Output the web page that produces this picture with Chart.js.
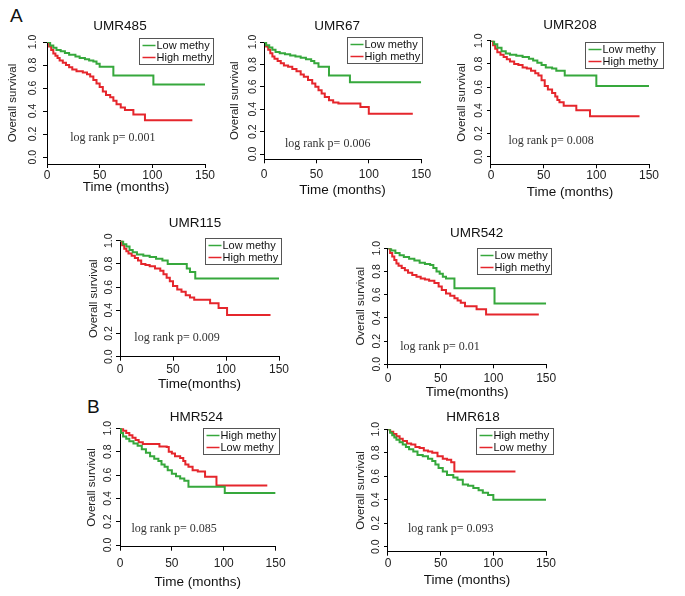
<!DOCTYPE html>
<html>
<head>
<meta charset="utf-8">
<script src="https://cdn.jsdelivr.net/npm/chart.js@4.4.1/dist/chart.umd.min.js"></script>
<style>
  body { margin: 0; background: #fff; width: 685px; height: 596px; position: relative; overflow: hidden; }
  .panel { position: absolute; }
  .tag { position: absolute; font: 19px 'Liberation Sans', Arial, sans-serif; color: #111; }
</style>
</head>
<body>
<div class="tag" style="left:10px;top:5px">A</div>
<div class="tag" style="left:87px;top:396px">B</div>
<script>
// axis ticks shared by every panel
const xTicks = [0, 50, 100, 150];
const yTicks = [0, 0.2, 0.4, 0.6, 0.8, 1.0];

// Kaplan-Meier steps: times (months) and survival
const umr485LowT  = [0, 3, 6, 9, 13, 17, 21, 27, 31, 36, 40, 44, 47, 50, 63, 101, 150];
const umr485LowS  = [1, .97, .95, .93, .92, .905, .89, .875, .86, .85, .84, .83, .81, .785, .71, .63, .63];
const umr485HighT = [0, 2, 4, 6, 8, 10, 12, 15, 18, 21, 24, 28, 34, 38, 41, 44, 47, 50, 53, 56, 60, 63, 66, 70, 74, 82, 93, 138];
const umr485HighS = [1, .96, .93, .9, .88, .86, .84, .82, .8, .78, .76, .745, .735, .72, .7, .67, .64, .61, .57, .54, .52, .49, .46, .43, .41, .37, .32, .32];

const umr67LowT  = [0, 2, 5, 8, 11, 15, 20, 25, 30, 35, 40, 45, 48, 52, 62, 82, 150];
const umr67LowS  = [1, .97, .95, .93, .91, .9, .89, .88, .87, .86, .845, .83, .81, .78, .7, .64, .64];
const umr67HighT = [0, 2, 4, 6, 8, 10, 13, 16, 19, 23, 27, 31, 35, 38, 42, 46, 49, 52, 55, 58, 62, 66, 71, 92, 100, 142];
const umr67HighS = [1, .96, .93, .9, .87, .85, .83, .81, .79, .78, .76, .74, .71, .69, .66, .63, .6, .57, .54, .51, .48, .46, .45, .42, .36, .36];

const umr208LowT  = [0, 3, 6, 10, 14, 18, 24, 30, 36, 40, 44, 48, 52, 58, 62, 70, 100, 150];
const umr208LowS  = [1, .97, .94, .91, .89, .88, .87, .86, .845, .83, .81, .79, .77, .76, .74, .7, .61, .61];
const umr208HighT = [0, 2, 4, 6, 9, 12, 15, 18, 22, 26, 30, 34, 38, 42, 45, 48, 51, 54, 58, 61, 63, 65, 69, 81, 94, 141];
const umr208HighS = [1, .96, .93, .9, .88, .86, .84, .82, .8, .79, .77, .76, .74, .72, .7, .66, .61, .58, .55, .52, .49, .47, .44, .4, .35, .35];

const umr115LowT  = [0, 3, 6, 9, 12, 16, 22, 28, 34, 40, 45, 63, 66, 71, 150];
const umr115LowS  = [1, .97, .95, .92, .9, .88, .87, .86, .845, .83, .8, .76, .73, .675, .675];
const umr115HighT = [0, 2, 4, 6, 8, 11, 14, 17, 20, 24, 28, 33, 38, 41, 44, 47, 50, 54, 58, 62, 66, 70, 85, 93, 101, 142];
const umr115HighS = [1, .96, .93, .91, .89, .87, .85, .83, .8, .79, .78, .76, .74, .71, .68, .65, .61, .58, .56, .53, .51, .49, .46, .42, .36, .36];

const umr542LowT  = [0, 3, 7, 11, 15, 20, 25, 30, 35, 40, 43, 46, 49, 52, 55, 63, 101, 150];
const umr542LowS  = [1, .98, .96, .94, .925, .91, .895, .875, .865, .855, .83, .8, .78, .755, .74, .655, .525, .525];
const umr542HighT = [0, 2, 4, 6, 8, 10, 13, 16, 19, 23, 27, 31, 35, 39, 44, 48, 51, 55, 59, 63, 66, 69, 73, 84, 93, 143];
const umr542HighS = [1, .96, .93, .9, .87, .85, .83, .81, .79, .77, .755, .74, .73, .72, .7, .67, .64, .61, .59, .57, .55, .53, .5, .475, .43, .43];

const hmr524HighT = [0, 1, 3, 6, 9, 13, 17, 21, 25, 29, 33, 37, 40, 43, 46, 50, 54, 58, 62, 66, 101, 150];
const hmr524HighS = [1, .96, .93, .91, .89, .87, .85, .82, .79, .76, .74, .72, .69, .67, .64, .61, .59, .57, .55, .5, .445, .445];
const hmr524LowT  = [0, 3, 6, 9, 12, 15, 18, 22, 38, 45, 47, 50, 53, 58, 61, 63, 66, 70, 75, 82, 93, 142];
const hmr524LowS  = [1, .98, .96, .94, .92, .9, .88, .865, .845, .84, .8, .785, .76, .745, .72, .69, .67, .64, .63, .585, .51, .51];

const hmr618HighT = [0, 2, 4, 6, 8, 11, 14, 17, 20, 24, 28, 33, 38, 42, 45, 48, 52, 56, 62, 66, 71, 76, 81, 86, 90, 95, 100, 150];
const hmr618HighS = [1, .97, .95, .93, .91, .89, .87, .85, .83, .81, .78, .77, .75, .73, .7, .67, .64, .61, .59, .57, .53, .52, .5, .48, .46, .44, .4, .4];
const hmr618LowT  = [0, 2, 5, 8, 11, 14, 18, 22, 26, 30, 34, 38, 42, 47, 52, 56, 60, 63, 121];
const hmr618LowS  = [1, .98, .96, .94, .92, .9, .88, .87, .85, .84, .82, .81, .8, .77, .75, .74, .72, .64, .64];

const GREEN = '#36a83c';
const RED = '#e5262c';
const FONT = "'Liberation Sans', Arial, sans-serif";

// layout of each panel in page pixels (chart area L/T/R/B) plus text offsets
const panels = [
  { title: 'UMR485', pText: 'log rank p= 0.001', xTitle: 'Time (months)',
    series: [['Low methy', umr485LowT, umr485LowS, GREEN], ['High methy', umr485HighT, umr485HighS, RED]],
    L: 47, T: 42, R: 205, B: 164, yMin: -0.06, titleDx: -6, titleY: 26,
    yTitle: 34, yTick: 14, xTick: 11, xTitleOff: 24, legend: [8, -4, 74], pAt: [22, 0.165] },
  { title: 'UMR67', pText: 'log rank p= 0.006', xTitle: 'Time (months)',
    series: [['Low methy', umr67LowT, umr67LowS, GREEN], ['High methy', umr67HighT, umr67HighS, RED]],
    L: 264, T: 42, R: 423, B: 159.3, yMin: -0.047, titleDx: -5.5, titleY: 26,
    yTitle: 29, yTick: 10, xTick: 15, xTitleOff: 31, legend: [1, -5, 75], pAt: [20, 0.095] },
  { title: 'UMR208', pText: 'log rank p= 0.008', xTitle: 'Time (months)',
    series: [['Low methy', umr208LowT, umr208LowS, GREEN], ['High methy', umr208HighT, umr208HighS, RED]],
    L: 491, T: 40.7, R: 649, B: 164.3, yMin: -0.065, titleDx: 0, titleY: 25,
    yTitle: 29, yTick: 12, xTick: 10, xTitleOff: 28, legend: [14, 1, 78], pAt: [16.5, 0.14] },
  { title: 'UMR115', pText: 'log rank p= 0.009', xTitle: 'Time(months)',
    series: [['Low methy', umr115LowT, umr115LowS, GREEN], ['High methy', umr115HighT, umr115HighS, RED]],
    L: 120, T: 240.7, R: 279, B: 356.7, yMin: 0, titleDx: -4.5, titleY: 223,
    yTitle: 26, yTick: 10, xTick: 12.6, xTitleOff: 27.6, legend: [2, -2.7, 76], pAt: [13.5, 0.16] },
  { title: 'UMR542', pText: 'log rank p= 0.01', xTitle: 'Time(months)',
    series: [['Low methy', umr542LowT, umr542LowS, GREEN], ['High methy', umr542HighT, umr542HighS, RED]],
    L: 388, T: 248.3, R: 547, B: 364.3, yMin: 0, titleDx: 9.5, titleY: 233,
    yTitle: 27, yTick: 11, xTick: 14, xTitleOff: 28.4, legend: [5, 0, 74], pAt: [11.6, 0.15] },
  { title: 'HMR524', pText: 'log rank p= 0.085', xTitle: 'Time (months)',
    series: [['High methy', hmr524HighT, hmr524HighS, GREEN], ['Low methy', hmr524LowT, hmr524LowS, RED]],
    L: 120, T: 428.3, R: 279, B: 546.7, yMin: -0.014, titleDx: -1.5, titleY: 417,
    yTitle: 28, yTick: 12, xTick: 16.6, xTitleOff: 36, legend: [3, 0, 76], pAt: [11, 0.135] },
  { title: 'HMR618', pText: 'log rank p= 0.093', xTitle: 'Time (months)',
    series: [['High methy', hmr618HighT, hmr618HighS, GREEN], ['Low methy', hmr618LowT, hmr618LowS, RED]],
    L: 388, T: 429.3, R: 546, B: 551.7, yMin: -0.043, titleDx: 6, titleY: 417,
    yTitle: 27, yTick: 12, xTick: 11.6, xTitleOff: 29, legend: [7, -1, 77], pAt: [19, 0.156] }
];

// title, legend box and log-rank note, drawn from the chart's own scales
const panelText = {
  id: 'panelText',
  afterDraw(chart, args, o) {
    const { ctx, chartArea: a, scales: { x, y } } = chart;
    ctx.save();
    ctx.textBaseline = 'middle';

    ctx.fillStyle = '#111';
    ctx.font = '13.5px ' + FONT;
    ctx.textAlign = 'center';
    ctx.fillText(o.title, (a.left + a.right) / 2 + o.titleDx, a.top - o.titleGap);

    ctx.fillStyle = '#333';
    ctx.font = "12px 'Liberation Serif', 'Times New Roman', serif";
    ctx.textAlign = 'left';
    ctx.fillText(o.pText, x.getPixelForValue(o.pAt[0]), y.getPixelForValue(o.pAt[1]));

    const [dx, dy, w] = o.legend;
    const lx = Math.round(a.right + dx - w) + 0.5;
    const ly = Math.round(a.top + dy) + 0.5;
    ctx.fillStyle = '#fff';
    ctx.fillRect(lx, ly, w, 26);
    ctx.strokeStyle = '#555';
    ctx.lineWidth = 1;
    ctx.strokeRect(lx, ly, w, 26);
    ctx.font = '11px ' + FONT;
    chart.data.datasets.forEach((ds, i) => {
      const cy = ly + 7 + i * 12;
      ctx.strokeStyle = ds.borderColor;
      ctx.lineWidth = 1.5;
      ctx.beginPath();
      ctx.moveTo(lx + 3, cy);
      ctx.lineTo(lx + 16, cy);
      ctx.stroke();
      ctx.fillStyle = '#111';
      ctx.fillText(ds.label, lx + 17, cy);
    });
    ctx.restore();
  }
};

Chart.defaults.font.family = FONT;

panels.forEach(p => {
  const yW = p.yTitle + 6.6;
  const xH = p.xTitleOff + 7.8;
  const left = Math.round(p.L - yW - 2);
  const top = Math.round(p.titleY - 12);
  const pr = Math.max(p.legend[0] + 4, 12);
  const width = Math.ceil(p.R + pr - left);
  const height = Math.ceil(p.B + xH + 2 - top);

  const box = document.createElement('div');
  box.className = 'panel';
  box.style.cssText = `left:${left}px;top:${top}px;width:${width}px;height:${height}px`;
  const canvas = document.createElement('canvas');
  box.appendChild(canvas);
  document.body.appendChild(box);

  new Chart(canvas, {
    type: 'line',
    data: {
      datasets: p.series.map(([label, t, s, color]) => ({
        label: label,
        data: t.map((v, i) => ({ x: v, y: s[i] })),
        borderColor: color,
        backgroundColor: color,
        borderWidth: 2,
        pointRadius: 0,
        stepped: true,
        fill: false
      }))
    },
    options: {
      responsive: true,
      maintainAspectRatio: false,
      animation: false,
      layout: { padding: { left: p.L - yW - left, right: width - (p.R - left), top: p.T - top, bottom: height - (p.B + xH - top) } },
      plugins: {
        legend: { display: false },
        tooltip: { enabled: false },
        panelText: {
          title: p.title, titleDx: p.titleDx, titleGap: p.T - p.titleY,
          pText: p.pText, pAt: p.pAt, legend: p.legend
        }
      },
      scales: {
        x: {
          type: 'linear', min: 0, max: 150,
          afterBuildTicks: s => { s.ticks = xTicks.map(v => ({ value: v })); },
          afterFit: s => { s.height = xH; },
          border: { color: '#000', width: 1 },
          grid: { drawOnChartArea: false, tickLength: 4, color: '#000' },
          ticks: { padding: Math.max(0, p.xTick - 11.2), maxRotation: 0, font: { size: 12 }, color: '#222' },
          title: { display: true, text: p.xTitle, font: { size: 13.5 }, color: '#111', padding: 0 }
        },
        y: {
          type: 'linear', min: p.yMin, max: 1,
          afterBuildTicks: s => { s.ticks = yTicks.map(v => ({ value: v })); },
          afterFit: s => { s.width = yW; },
          border: { color: '#000', width: 1 },
          grid: { drawOnChartArea: false, tickLength: 4, color: '#000' },
          ticks: {
            minRotation: 90, maxRotation: 90, crossAlign: 'center',
            padding: Math.max(0, p.yTick - 10.95), font: { size: 10.5 }, color: '#222',
            callback: v => Number(v).toFixed(1)
          },
          title: { display: true, text: 'Overall survival', font: { size: 11.5 }, color: '#222', padding: 0 }
        }
      }
    },
    plugins: [panelText]
  });
});
</script>
</body>
</html>
